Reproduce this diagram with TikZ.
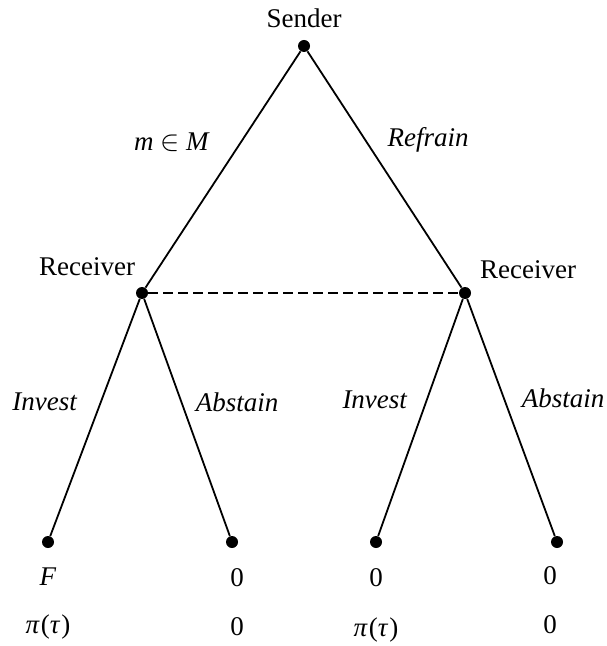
\documentclass[tikz,border=0pt]{standalone}
\usepackage{fontspec}
\setmainfont{Liberation Serif}
\usepackage{tikz}
\usetikzlibrary{positioning,calc}

\begin{document}
\begin{tikzpicture}[
    x=0.5pt, y=-0.5pt,
    dot/.style={circle, fill=black, inner sep=0pt, minimum size=6pt},
    branch/.style={line width=0.9pt},
    info/.style={line width=0.7pt, dash pattern=on 5pt off 2.5pt},
    every node/.style={font=\fontsize{13.5}{16}\selectfont}
]
\useasboundingbox (0,0) rectangle (606,646);

% Decision nodes
\node[dot] (send) at (304,46) {};
\node[dot] (recL) at (142,293) {};
\node[dot] (recR) at (465,293) {};
\node at (304,18) (sendlab) {Sender};
\node at (87,267) (recLlab) {Receiver};
\node at (528,270) (recRlab) {Receiver};

% Terminal nodes
\node[dot] (leafA) at (48,542) {};
\node[dot] (leafB) at (232,542) {};
\node[dot] (leafC) at (376,542) {};
\node[dot] (leafD) at (557,542) {};

% Branches
\draw[branch] (send) -- (recL);
\draw[branch] (send) -- (recR);
\draw[branch] (recL) -- (leafA);
\draw[branch] (recL) -- (leafB);
\draw[branch] (recR) -- (leafC);
\draw[branch] (recR) -- (leafD);
\draw[info] (recL) -- (recR);

% Action labels
\node at (172,142) (msg) {\textit{m} $\in$ \textit{M}};
\node at (428,140) (refr) {\textit{Refrain}};
\node at (45,402) (invL) {\textit{Invest}};
\node at (237,402) (absL) {\textit{Abstain}};
\node at (375,400) (invR) {\textit{Invest}};
\node at (563,398) (absR) {\textit{Abstain}};

% Payoffs
\node at (48,577) (payA1) {\textit{F}};
\node at (48,627) (payA2) {\textit{π}\kern0.5pt(\textit{τ}\kern0.5pt)};
\node at (237,578) (payB1) {0};
\node at (237,627) (payB2) {0};
\node at (376,578) (payC1) {0};
\node at (376,630) (payC2) {\textit{π}\kern0.5pt(\textit{τ}\kern0.5pt)};
\node at (550,576) (payD1) {0};
\node at (550,625) (payD2) {0};

\end{tikzpicture}
\end{document}
